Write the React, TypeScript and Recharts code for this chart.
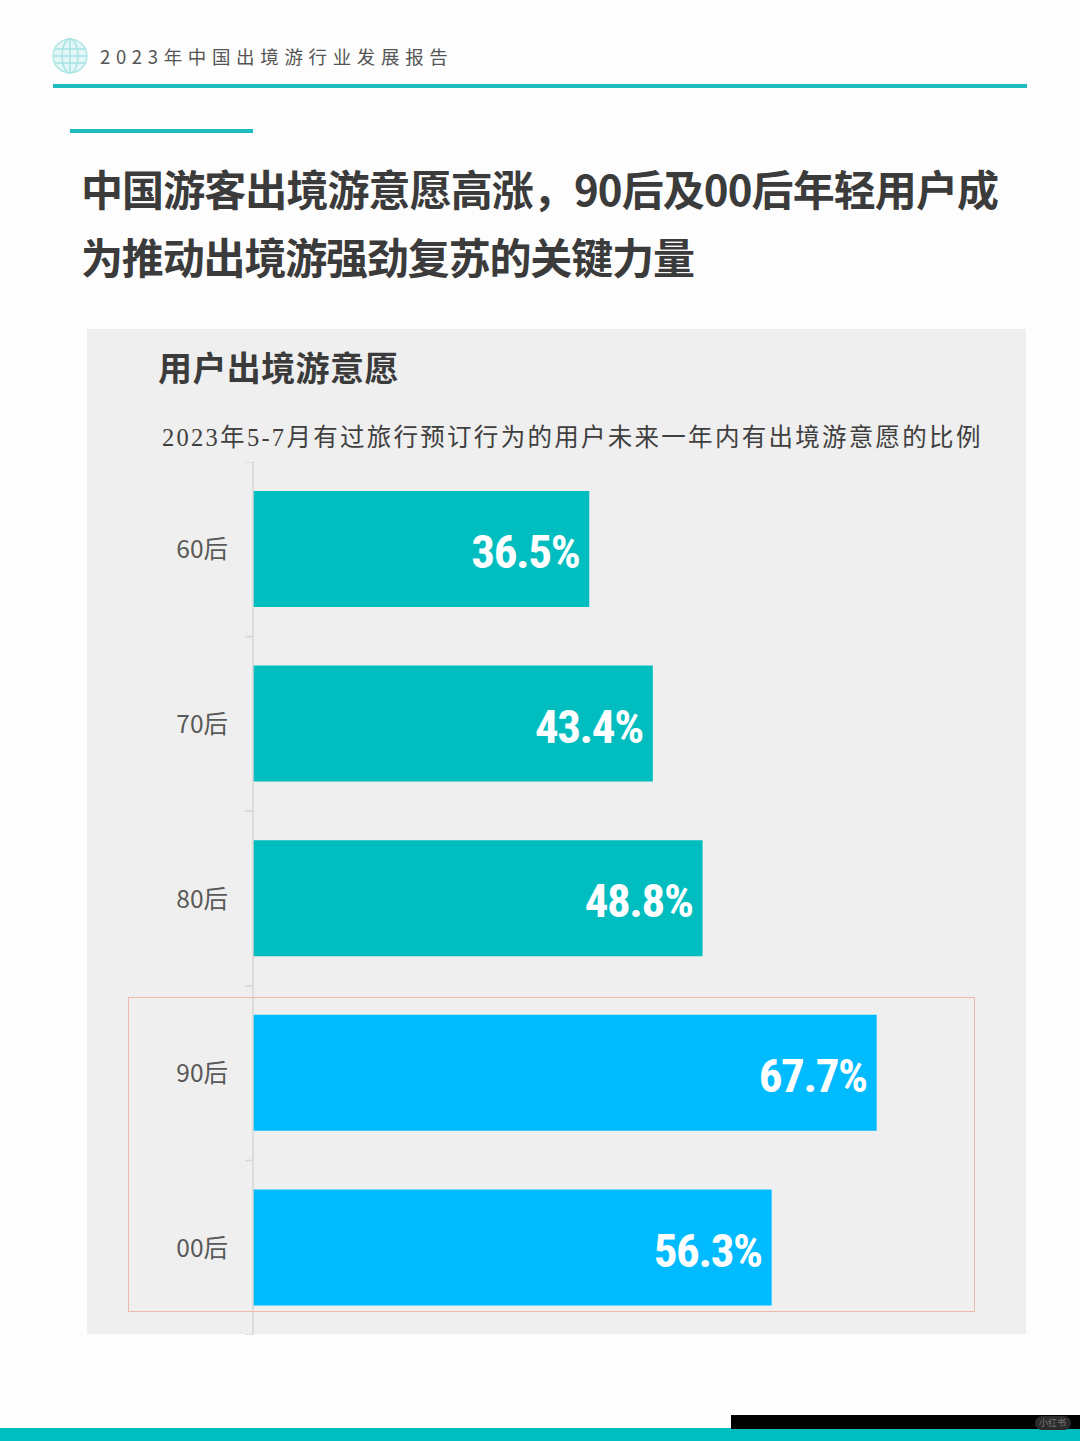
import { BarChart, Bar, XAxis, YAxis, Cell, LabelList } from "recharts";

const categories = ["60后", "70后", "80后", "90后", "00后"];
const values = [36.5, 43.4, 48.8, 67.7, 56.3];
const barColors = ["#00bdc0", "#00bdc0", "#00bdc0", "#00bbff", "#00bbff"];

const chartData = categories.map((name, i) => ({ name, value: values[i] }));

const SANS = '"Noto Sans CJK SC", "Noto Sans", sans-serif';
const BAND = 174.6;

function CategoryTick({ x, y, payload, index }: any) {
  // recharts leaves the tick x a few px left of the axis line
  const tickX = x + 8;
  return (
    <g>
      <line x1={tickX - 8} x2={tickX} y1={y - BAND / 2} y2={y - BAND / 2} stroke="#d6d6d6" strokeWidth={1.5} />
      {index === categories.length - 1 && (
        <line x1={tickX - 8} x2={tickX} y1={y + BAND / 2} y2={y + BAND / 2} stroke="#d6d6d6" strokeWidth={1.5} />
      )}
      <text x={tickX - 25} y={y + 9} textAnchor="end" fontSize={24.5} fill="#595959" fontFamily={SANS}>
        {payload.value}
      </text>
    </g>
  );
}

function Text({ x, y, size, color, weight, spacing, family, children }: any) {
  return (
    <div
      style={{
        position: "absolute",
        left: x,
        top: y,
        fontSize: size,
        lineHeight: 1,
        color,
        fontWeight: weight ?? 400,
        letterSpacing: spacing ?? 0,
        fontFamily: family ?? SANS,
        whiteSpace: "nowrap",
      }}
    >
      {children}
    </div>
  );
}

function Box({ x, y, w, h, style }: any) {
  return <div style={{ position: "absolute", left: x, top: y, width: w, height: h, ...style }} />;
}

function Globe() {
  const c = "#a5e3e3";
  return (
    <svg style={{ position: "absolute", left: 52, top: 38 }} width={36} height={36} viewBox="0 0 36 36">
      <circle cx={18} cy={18} r={17} fill="#e2f6f6" stroke={c} strokeWidth={1.2} />
      <ellipse cx={18} cy={18} rx={8} ry={17} fill="none" stroke={c} strokeWidth={1.5} />
      <path d="M18 1V35M2 11H34M1 18H35M2 25H34" stroke={c} strokeWidth={1.5} fill="none" />
    </svg>
  );
}

export default function App() {
  return (
    <div style={{ position: "absolute", left: 0, top: 0, width: 1080, height: 1441, background: "#fdfdfd", overflow: "hidden" }}>
      <Globe />
      <Text x={100} y={47} size={18.5} color="#555555" spacing={5.65}>
        2023年中国出境游行业发展报告
      </Text>
      <Box x={53} y={84} w={974} h={3.5} style={{ background: "#1cbcc0" }} />
      <Box x={70} y={129} w={183} h={4} style={{ background: "#1cbcc0" }} />

      <Text x={81} y={167} size={42} color="#3b3b3b" weight={700} spacing={-0.92}>
        中国游客出境游意愿高涨，90后及00后年轻用户成
      </Text>
      <Text x={81} y={235} size={42} color="#3b3b3b" weight={700} spacing={-1.15}>
        为推动出境游强劲复苏的关键力量
      </Text>

      <Box x={87} y={329} w={939} h={1005} style={{ background: "#efefef" }} />
      <Text x={158} y={350} size={34} color="#3b3b3b" weight={700} spacing={0.4}>
        用户出境游意愿
      </Text>
      <Text x={162} y={426} size={24.5} color="#3f3f3f" spacing={2.28} family={'"Liberation Serif", "Noto Sans CJK SC", serif'}>
        2023年5-7月有过旅行预订行为的用户未来一年内有出境游意愿的比例
      </Text>

      <div style={{ position: "absolute", left: 0, top: 461.5 }}>
        <BarChart
          width={1080}
          height={873}
          layout="vertical"
          data={chartData}
          barSize={116}
          margin={{ top: 0, right: 90, bottom: 0, left: 0 }}
        >
          <XAxis type="number" hide domain={[0, 80]} />
          <YAxis
            type="category"
            dataKey="name"
            width={253}
            axisLine={{ stroke: "#d6d6d6", strokeWidth: 1.5 }}
            tickLine={false}
            interval={0}
            tick={<CategoryTick />}
          />
          <Bar dataKey="value" isAnimationActive={false}>
            {chartData.map((d, i) => (
              <Cell key={d.name} fill={barColors[i]} />
            ))}
            <LabelList
              dataKey="value"
              position="insideRight"
              offset={10}
              dy={2.5}
              formatter={(v: number) => `${v.toFixed(1)}%`}
              fill="#ffffff"
              fontSize={47}
              fontWeight={700}
              letterSpacing={-1.4}
              fontFamily='"Liberation Sans Narrow", "Roboto Condensed", Roboto, sans-serif'
            />
          </Bar>
        </BarChart>
      </div>

      <Box x={128} y={997} w={847} h={315} style={{ border: "1px solid #eeb9a8", boxSizing: "border-box" }} />

      <Box x={0} y={1428} w={1080} h={13} style={{ background: "#00bdc0" }} />
      <Box x={731} y={1415} w={349} h={14} style={{ background: "#000000" }} />
      <Box x={1035} y={1416} w={36} h={14} style={{ background: "#2b2b2b", borderRadius: 7 }} />
      <Text x={1039} y={1418} size={9} color="#777777">
        小红书
      </Text>
    </div>
  );
}
